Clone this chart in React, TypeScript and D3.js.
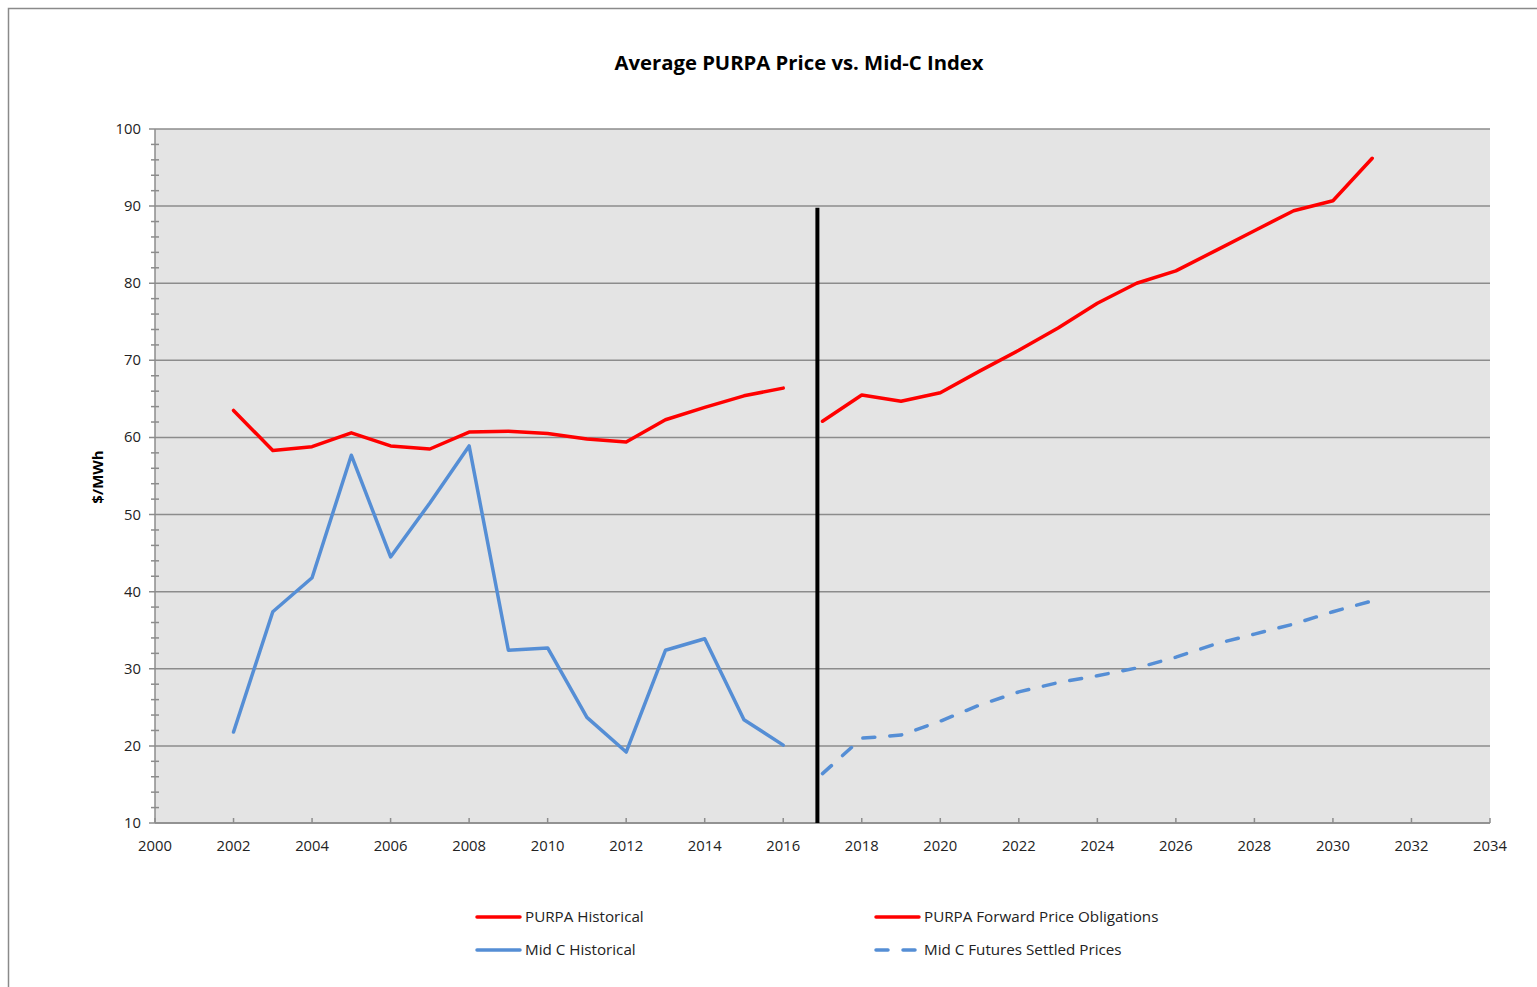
import * as d3 from 'd3';

const histYears = [2002, 2003, 2004, 2005, 2006, 2007, 2008, 2009, 2010, 2011, 2012, 2013, 2014, 2015, 2016];
const purpaHist = [63.5, 58.3, 58.8, 60.6, 58.9, 58.5, 60.7, 60.8, 60.5, 59.8, 59.4, 62.3, 63.9, 65.4, 66.4];
const midCHist = [21.8, 37.4, 41.8, 57.7, 44.5, 51.5, 58.9, 32.4, 32.7, 23.7, 19.2, 32.4, 33.9, 23.4, 20.1];

const fwdYears = [2017, 2018, 2019, 2020, 2021, 2022, 2023, 2024, 2025, 2026, 2027, 2028, 2029, 2030, 2031];
const purpaFwd = [62.1, 65.5, 64.7, 65.8, 68.6, 71.3, 74.2, 77.4, 80.0, 81.6, 84.2, 86.8, 89.4, 90.7, 96.2];
const midCFut = [16.4, 21.0, 21.4, 23.2, 25.3, 27.0, 28.2, 29.1, 30.1, 31.5, 33.2, 34.5, 35.8, 37.4, 38.8];

// vertical divider between history and forecast
const dividerYear = 2016.87;
const dividerTop = 89.8;

const xTicks = d3.range(2000, 2035, 2);
const yTicks = d3.range(10, 101, 10);
const yMinor = d3.range(12, 100, 2).filter((v) => v % 10 !== 0);

const legendItems = [
  { label: 'PURPA Historical', color: '#ff0000', dash: false },
  { label: 'PURPA Forward Price Obligations', color: '#ff0000', dash: false },
  { label: 'Mid C Historical', color: '#558ed5', dash: false },
  { label: 'Mid C Futures Settled Prices', color: '#558ed5', dash: true },
];

const RED = '#ff0000';
const BLUE = '#558ed5';
const FONT = '"Open Sans", "Liberation Sans", sans-serif';

export default function App() {
  const W = 1537;
  const H = 987;
  const m = { left: 155, right: 1490, top: 129, bottom: 823 };

  const x = d3.scaleLinear().domain([2000, 2034]).range([m.left, m.right]);
  const y = d3.scaleLinear().domain([10, 100]).range([m.bottom, m.top]);

  const line = d3
    .line<[number, number]>()
    .x((d) => x(d[0]))
    .y((d) => y(d[1]));

  const series = [
    { years: histYears, vals: purpaHist, color: RED, dash: undefined },
    { years: histYears, vals: midCHist, color: BLUE, dash: undefined },
    { years: fwdYears, vals: purpaFwd, color: RED, dash: undefined },
    { years: fwdYears, vals: midCFut, color: BLUE, dash: '12 15' },
  ];

  return (
    <svg
      width={W}
      height={H}
      style={{ position: 'absolute', left: 0, top: 0, background: '#fff' }}
      fontFamily={FONT}
    >
      <rect x={8.5} y={8.5} width={W + 10} height={H + 10} fill="#fff" stroke="#8a8a8a" strokeWidth={1.5} />

      <text x={799} y={70} textAnchor="middle" fontSize={20.3} fontWeight="bold" fill="#000">
        Average PURPA Price vs. Mid-C Index
      </text>

      <rect x={m.left} y={m.top} width={m.right - m.left} height={m.bottom - m.top} fill="#e4e4e4" />

      {/* gridlines */}
      {yTicks.map((t) => (
        <line key={'g' + t} x1={m.left - 6} x2={m.right} y1={y(t)} y2={y(t)} stroke="#8c8c8c" strokeWidth={1.5} />
      ))}
      {yMinor.map((t) => (
        <line key={'mn' + t} x1={m.left - 4} x2={m.left + 4} y1={y(t)} y2={y(t)} stroke="#8c8c8c" strokeWidth={1.5} />
      ))}
      <line x1={m.left} x2={m.left} y1={m.top} y2={m.bottom} stroke="#8c8c8c" strokeWidth={1.5} />
      <line x1={m.left} x2={m.right} y1={m.bottom} y2={m.bottom} stroke="#8c8c8c" strokeWidth={1.5} />
      {xTicks.map((t) => (
        <line key={'xt' + t} x1={x(t)} x2={x(t)} y1={m.bottom} y2={m.bottom - 5} stroke="#8c8c8c" strokeWidth={1.5} />
      ))}

      {yTicks.map((t) => (
        <text key={'yl' + t} x={m.left - 14} y={y(t) + 5} textAnchor="end" fontSize={14.8} fill="#222">
          {t}
        </text>
      ))}
      {xTicks.map((t) => (
        <text key={'xl' + t} x={x(t)} y={m.bottom + 28} textAnchor="middle" fontSize={14.8} fill="#222">
          {t}
        </text>
      ))}

      <text
        transform={`translate(103,477) rotate(-90)`}
        textAnchor="middle"
        fontSize={15}
        fontWeight="bold"
        fill="#000"
      >
        $/MWh
      </text>

      {series.map((s, i) => (
        <path
          key={'s' + i}
          d={line(s.years.map((yr, j) => [yr, s.vals[j]] as [number, number])) || ''}
          fill="none"
          stroke={s.color}
          strokeWidth={3.5}
          strokeDasharray={s.dash}
          strokeLinecap="round"
          strokeLinejoin="round"
        />
      ))}

      <line x1={x(dividerYear)} x2={x(dividerYear)} y1={y(10)} y2={y(dividerTop)} stroke="#000" strokeWidth={4} />

      {legendItems.map((it, i) => {
        const lx = i % 2 === 0 ? 477 : 876;
        const ly = i < 2 ? 917 : 950;
        return (
          <g key={'lg' + i}>
            <line
              x1={lx}
              x2={lx + 43}
              y1={ly}
              y2={ly}
              stroke={it.color}
              strokeWidth={3.5}
              strokeLinecap="round"
              strokeDasharray={it.dash ? '12 15' : undefined}
            />
            <text x={lx + 48} y={ly + 5} fontSize={15.2} fill="#222">
              {it.label}
            </text>
          </g>
        );
      })}
    </svg>
  );
}
